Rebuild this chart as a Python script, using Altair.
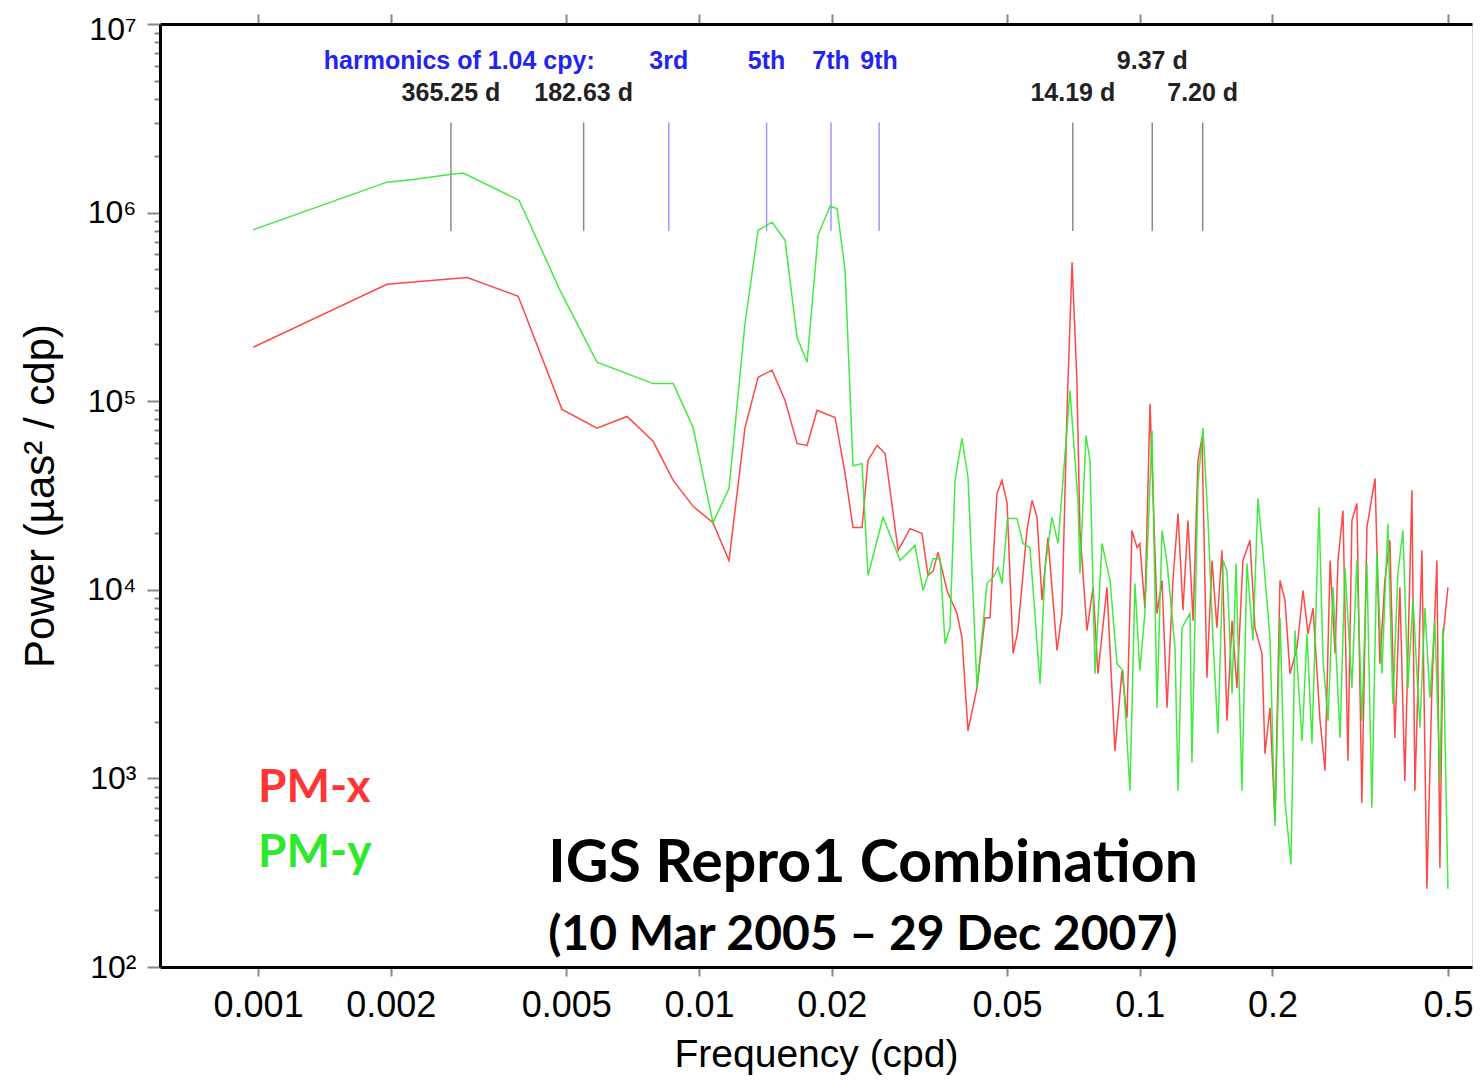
import altair as alt
import pandas as pd

# ---------------- data ----------------
pmx_freq = [0.000974, 0.00196, 0.00225, 0.00298, 0.00389, 0.00489, 0.00587, 0.00687, 0.00787, 0.00874,
            0.0097, 0.01076, 0.0117, 0.01272, 0.01362, 0.01465, 0.01568, 0.01669, 0.01759, 0.01853,
            0.02036, 0.02145, 0.02236, 0.02344, 0.02418, 0.02536, 0.02644, 0.0283, 0.03012, 0.03206,
            0.03308, 0.0340, 0.03485, 0.03654, 0.03849, 0.0395, 0.04077, 0.04273, 0.04455, 0.04573,
            0.04743, 0.0487, 0.0500, 0.0516, 0.0529, 0.05546, 0.05697, 0.05846, 0.0600, 0.0619,
            0.0649, 0.0666, 0.06835, 0.0702, 0.0720, 0.07315, 0.0759, 0.07834, 0.08037, 0.08425,
            0.08785, 0.09112, 0.09354, 0.0960, 0.0986, 0.1000, 0.1027, 0.1055, 0.1094, 0.1123,
            0.1153, 0.1189, 0.1221, 0.1253, 0.1286, 0.1321, 0.1355, 0.1384, 0.1420, 0.1458,
            0.1496, 0.1536, 0.1577, 0.1619, 0.1661, 0.1714, 0.1778, 0.1825, 0.1893, 0.1923,
            0.1974, 0.2026, 0.2080, 0.2135, 0.2192, 0.2274, 0.2346, 0.2408, 0.2472, 0.2564,
            0.2632, 0.2702, 0.2773, 0.2816, 0.2890, 0.2966, 0.3028, 0.3108, 0.3190, 0.3275,
            0.3417, 0.3505, 0.3597, 0.3692, 0.3790, 0.3890, 0.3992, 0.4143, 0.4208, 0.4365,
            0.4480, 0.4599, 0.4720, 0.4795, 0.4871, 0.5000]
pmx_power = [1.93e5, 4.17e5, 4.28e5, 4.53e5, 3.6e5, 9.05e4, 7.2e4, 8.3e4, 6.13e4, 3.8e4,
             2.77e4, 2.27e4, 1.43e4, 7.25e4, 1.34e5, 1.46e5, 1.01e5, 5.97e4, 5.83e4, 8.95e4,
             8.2e4, 4.14e4, 2.14e4, 2.14e4, 4.85e4, 5.83e4, 5.28e4, 1.62e4, 2.11e4, 1.99e4,
             1.19e4, 1.26e4, 1.58e4, 9.9e3, 7.5e3, 5.57e3, 1.79e3, 3.02e3, 7.1e3, 7.1e3,
             3.24e4, 3.8e4, 2.87e4, 4.59e3, 6.08e3, 2.06e4, 2.98e4, 2.42e4, 8.8e3, 1.89e4,
             4.77e3, 7.5e3, 8.6e4, 5.46e5, 1.29e5, 2.06e4, 6.08e3, 1.03e4, 3.59e3, 1.03e4,
             1.4e3, 3.72e3, 2.1e3, 2.06e4, 1.67e4, 1.76e4, 8.0e3, 9.7e4, 7.5e3, 1.12e4,
             2.37e3, 1.12e4, 2.54e4, 7.8e3, 2.33e4, 6.85e3, 4.85e4, 6.43e4, 3.42e3, 1.43e4,
             6.3e3, 1.62e4, 2.02e3, 6.85e3, 3.02e3, 1.43e4, 1.83e4, 6.3e3, 4.59e3, 1.35e3,
             2.37e3, 595, 1.12e4, 8.8e3, 3.59e3, 4.93e3, 9.9e3, 5.85e3, 8.0e3, 2.02e3,
             1.1e3, 1.43e4, 4.59e3, 1.43e4, 2.63e4, 1.24e3, 2.33e4, 2.87e4, 740, 2.14e4,
             3.9e4, 4.06e3, 1.12e4, 1.83e4, 1.64e3, 1.03e4, 970, 3.37e4, 860, 1.62e4,
             260, 3.02e3, 1.43e4, 335, 5.57e3, 1.03e4]

pmy_freq = [0.000974, 0.00196, 0.00225, 0.00277, 0.00292, 0.00391, 0.00484, 0.00587, 0.00787, 0.00874,
            0.0097, 0.01076, 0.0117, 0.01272, 0.01362, 0.01465, 0.01568, 0.01669, 0.01759, 0.01863,
            0.01983, 0.02057, 0.02145, 0.02236, 0.02344, 0.02418, 0.02616, 0.0286, 0.0309, 0.03224,
            0.03398, 0.03523, 0.03616, 0.0371, 0.0381, 0.0395, 0.04077, 0.04273, 0.04502, 0.04645,
            0.04768, 0.0487, 0.0501, 0.05264, 0.05434, 0.05635, 0.0594, 0.06095, 0.0632, 0.06525,
            0.06945, 0.0724, 0.07315, 0.0755, 0.0771, 0.07915, 0.0821, 0.0856, 0.0888, 0.0916,
            0.0950, 0.0975, 0.1000, 0.1027, 0.1066, 0.1094, 0.1123, 0.1153, 0.1202, 0.1221,
            0.1247, 0.1300, 0.1313, 0.1355, 0.1391, 0.1428, 0.1466, 0.1504, 0.1545, 0.1577,
            0.1619, 0.1653, 0.1705, 0.1750, 0.1806, 0.1854, 0.1903, 0.1974, 0.2026, 0.2080,
            0.2135, 0.2202, 0.2250, 0.2334, 0.2395, 0.2458, 0.2550, 0.2604, 0.2674, 0.2744,
            0.2846, 0.2920, 0.3028, 0.3108, 0.3190, 0.3275, 0.3361, 0.3450, 0.3541, 0.3654,
            0.3751, 0.3850, 0.3953, 0.4057, 0.4165, 0.4320, 0.4434, 0.4551, 0.4670, 0.4795,
            0.4871, 0.5000]
pmy_power = [8.1e5, 1.45e6, 1.50e6, 1.60e6, 1.62e6, 1.16e6, 3.87e5, 1.61e5, 1.24e5, 1.24e5,
             7.25e4, 2.27e4, 3.44e4, 2.59e5, 8.06e5, 8.9e5, 7.13e5, 2.18e5, 1.61e5, 7.6e5,
             1.08e6, 1.05e6, 4.94e5, 4.55e4, 4.67e4, 1.19e4, 2.42e4, 1.43e4, 1.72e4, 9.9e3,
             1.46e4, 1.46e4, 5.18e3, 6.3e3, 3.8e4, 6.35e4, 3.94e4, 3.02e3, 1.08e4, 1.16e4,
             1.31e4, 1.08e4, 2.39e4, 2.39e4, 1.76e4, 1.67e4, 3.18e3, 1.31e4, 2.42e4, 1.76e4,
             1.14e5, 2.98e4, 1.22e4, 6.58e4, 4.85e4, 3.59e3, 1.76e4, 1.12e4, 4.06e3, 3.72e3,
             860, 1.08e4, 3.72e3, 7.5e3, 7.0e4, 2.37e3, 2.06e4, 1.39e4, 4.93e3, 860,
             6.3e3, 7.5e3, 1.21e3, 3.66e4, 7.2e4, 2.33e4, 5.38e3, 1.73e3, 1.43e4, 1.26e4,
             2.81e3, 1.38e4, 860, 1.38e4, 5.38e3, 3.05e4, 1.56e4, 5.57e3, 560, 7.1e3,
             760, 350, 6.08e3, 1.58e3, 5.85e3, 1.53e3, 2.73e4, 4.21e3, 2.02e3, 1.03e4,
             1.64e3, 1.31e4, 3.02e3, 1.43e4, 2.02e3, 1.38e4, 700, 1.56e4, 3.59e3, 2.24e4,
             2.49e3, 1.22e4, 2.06e4, 3.02e3, 8.8e3, 1.86e3, 8.0e3, 2.68e3, 6.85e3, 970,
             6.3e3, 260]

# marked periods (days) and harmonics of 1.04 cpy
period_days = [365.25, 182.63, 14.19, 9.37, 7.20]
period_labels = ["365.25 d", "182.63 d", "14.19 d", "9.37 d", "7.20 d"]
period_row = ["low", "low", "low", "high", "low"]
harmonic_base_cpy = 1.04
harmonic_orders = [3, 5, 7, 9]
harmonic_labels = ["3rd", "5th", "7th", "9th"]

x_tick_values = [0.001, 0.002, 0.005, 0.01, 0.02, 0.05, 0.1, 0.2, 0.5]

# ---------------- styles ----------------
RED = "#ff3434"
GREEN = "#2ee82e"
X_DOMAIN = [0.000599, 0.567]
Y_DOMAIN = [100, 10000000]
ROW_Y = {"high": 6.36e6, "low": 4.3e6}
MARK_BOTTOM, MARK_TOP = 8.0e5, 3.0e6
AXIS_FONT = "Liberation Sans"

xscale = alt.Scale(type="log", domain=X_DOMAIN, nice=False)
yscale = alt.Scale(type="log", domain=Y_DOMAIN, nice=False)

y_tick_values = [m * 10 ** e for e in range(2, 7) for m in range(1, 10)] + [10 ** 7]
is_decade = "abs(log(datum.value)/LN10 - round(log(datum.value)/LN10)) < 0.000001"
y_label_expr = (is_decade + " ? '10' + ['\u2070','\u00b9','\u00b2','\u00b3','\u2074','\u2075','\u2076','\u2077','\u2078','\u2079']"
                "[round(log(datum.value)/LN10)] : ''")

lines_df = pd.concat([
    pd.DataFrame({"freq": pmx_freq, "power": pmx_power, "series": "PM-x"}),
    pd.DataFrame({"freq": pmy_freq, "power": pmy_power, "series": "PM-y"}),
])

periods_df = pd.DataFrame({
    "freq": [1.0 / p for p in period_days],
    "label": period_labels,
    "label_y": [ROW_Y[r] for r in period_row],
    "y0": MARK_BOTTOM, "y1": MARK_TOP,
})
harm_df = pd.DataFrame({
    "freq": [n * harmonic_base_cpy / 365.25 for n in harmonic_orders],
    "label": harmonic_labels,
    "label_y": ROW_Y["high"],
    "y0": MARK_BOTTOM, "y1": MARK_TOP,
})

X = lambda **kw: alt.X("freq:Q", scale=xscale, **kw)
Y = lambda field="power", **kw: alt.Y(f"{field}:Q", scale=yscale, **kw)

lines = alt.Chart(lines_df).mark_line(strokeWidth=1.5, opacity=0.9).encode(
    x=X(axis=alt.Axis(values=x_tick_values, format="~g", title="Frequency (cpd)",
                      tickSize=9, tickWidth=2, labelPadding=12, titlePadding=12,
                      labelFontSize=36, titleFontSize=39, labelFlush=False,
                      titleFontWeight="normal", domainWidth=3, domainColor="black")),
    y=Y(axis=alt.Axis(values=y_tick_values, labelExpr=y_label_expr, labelOverlap=False,
                      tickSize={"condition": {"test": is_decade, "value": 13}, "value": 6},
                      labelOffset={"condition": {"test": "datum.value >= 9999999", "value": 5},
                                   "value": 0},
                      tickWidth=2, labelPadding=11, titlePadding=24,
                      title="Power (\u00b5as\u00b2 / cdp)", labelFontSize=32, titleFontSize=42,
                      titleFontWeight="normal", domainWidth=3, domainColor="black")),
    color=alt.Color("series:N", scale=alt.Scale(domain=["PM-x", "PM-y"], range=[RED, GREEN]),
                    legend=None),
)

top_axis = alt.Chart(pd.DataFrame({"freq": x_tick_values})).mark_point(opacity=0).encode(
    x=X(axis=alt.Axis(orient="top", values=x_tick_values, labels=False, title=None,
                      tickSize=10, tickWidth=2, domainWidth=3, domainColor="black")),
)

period_rules = alt.Chart(periods_df).mark_rule(color="#8a8a8a", strokeWidth=1.5).encode(
    x=X(axis=None), y=Y("y0", axis=None), y2="y1")
harm_rules = alt.Chart(harm_df).mark_rule(color="#9a9aff", strokeWidth=1.5).encode(
    x=X(axis=None), y=Y("y0", axis=None), y2="y1")

period_text = alt.Chart(periods_df).mark_text(
    font="Liberation Sans", fontSize=25, fontWeight="bold", color="#222222",
    align="center", baseline="middle").encode(
    x=X(axis=None), y=Y("label_y", axis=None), text="label:N")
harm_text = alt.Chart(harm_df).mark_text(
    font="Liberation Sans", fontSize=25, fontWeight="bold", color="#2424f0",
    align="center", baseline="middle").encode(
    x=X(axis=None), y=Y("label_y", axis=None), text="label:N")
harm_title = alt.Chart(harm_df.iloc[[0]]).mark_text(
    font="Liberation Sans", fontSize=25, fontWeight="bold", color="#2424f0",
    align="right", baseline="middle", dx=-74).encode(
    x=X(axis=None), y=Y("label_y", axis=None), text=alt.value("harmonics of 1.04 cpy:"))

legend_df = pd.DataFrame({"freq": [0.001, 0.001], "power": [890, 400],
                          "label": ["PM-x", "PM-y"]})
legend_text = alt.Chart(legend_df).mark_text(
    font="Lato", fontSize=46, fontWeight="bold", align="left", baseline="middle").encode(
    x=X(axis=None), y=Y(axis=None), text="label:N",
    color=alt.Color("label:N", scale=alt.Scale(domain=["PM-x", "PM-y"], range=[RED, GREEN]),
                    legend=None))

note_df = pd.DataFrame({"freq": [0.00455], "power": [352]})
note1 = alt.Chart(note_df).mark_text(
    font="Lato", fontSize=59, fontWeight="bold", color="black", align="left",
    baseline="middle").encode(x=X(axis=None), y=Y(axis=None),
                              text=alt.value("IGS Repro1 Combination"))
note2_df = pd.DataFrame({"freq": [0.00455], "power": [146]})
note2 = alt.Chart(note2_df).mark_text(
    font="Lato", fontSize=48, fontWeight="bold", color="black", align="left",
    baseline="middle").encode(x=X(axis=None), y=Y(axis=None),
                              text=alt.value("(10 Mar 2005 \u2013 29 Dec 2007)"))

chart = alt.layer(
    period_rules, harm_rules, lines, top_axis, period_text, harm_text, harm_title,
    legend_text, note1, note2,
).resolve_axis(x="independent", y="independent").resolve_scale(color="independent").properties(
    width=1312, height=943,
    autosize=alt.AutoSizeParams(type="none"),
    padding={"left": 152, "top": 16, "right": 2, "bottom": 108},
).configure_view(stroke="black", strokeWidth=3).configure_axis(
    grid=False, labelFont=AXIS_FONT, titleFont=AXIS_FONT, labelColor="black",
    titleColor="black", tickColor="black", domainColor="black",
).configure(background="white")

chart.save("out.html", embed_options={"renderer": "svg", "actions": False})
